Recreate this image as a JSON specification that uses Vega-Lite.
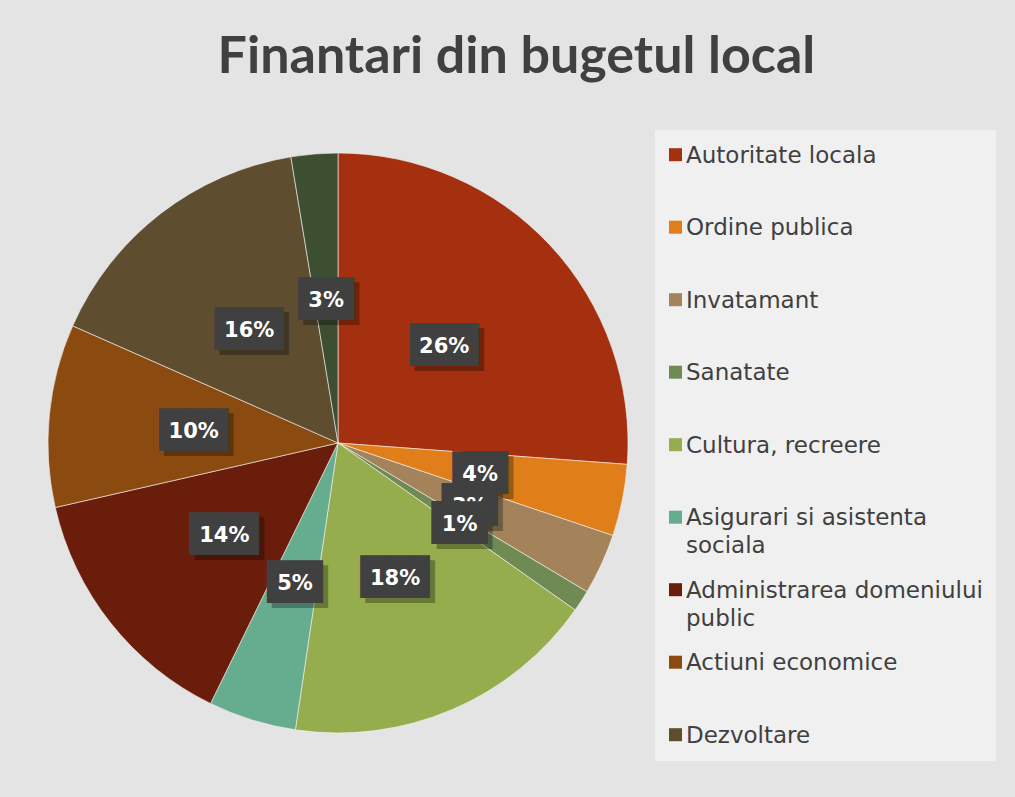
{
  "$schema": "https://vega.github.io/schema/vega-lite/v6.json",
  "width": 580,
  "height": 580,
  "autosize": "none",
  "padding": {"left": 48, "top": 153, "right": 387, "bottom": 64},
  "background": "#e4e4e4",
  "title": {
    "text": "Finantari din bugetul local",
    "font": "Lato",
    "fontWeight": "bold",
    "fontSize": 52,
    "color": "#404040",
    "anchor": "middle",
    "frame": "bounds",
    "baseline": "alphabetic",
    "offset": 5,
    "dx": -5
  },
  "config": {
    "view": {"stroke": null},
    "style": {"guide-label": {"lineHeight": 28}}
  },
  "data": {
    "values": [
      {"cat": "Autoritate locala", "value": 26.2, "idx": 1, "label": "26%"},
      {"cat": "Ordine publica", "value": 4.0, "idx": 2, "label": "4%"},
      {"cat": "Invatamant", "value": 3.4, "idx": 3, "label": "3%"},
      {"cat": "Sanatate", "value": 1.2, "idx": 4, "label": "1%"},
      {"cat": "Cultura, recreere", "value": 17.6, "idx": 5, "label": "18%"},
      {"cat": "Asigurari si asistenta sociala", "value": 4.9, "idx": 6, "label": "5%"},
      {"cat": "Administrarea domeniului public", "value": 14.2, "idx": 7, "label": "14%"},
      {"cat": "Actiuni economice", "value": 10.2, "idx": 8, "label": "10%"},
      {"cat": "Dezvoltare", "value": 15.8, "idx": 9, "label": "16%"},
      {"cat": "Altele", "value": 2.6, "idx": 10, "label": "3%"}
    ]
  },
  "encoding": {
    "theta": {"field": "value", "type": "quantitative", "stack": true},
    "order": {"field": "idx", "type": "quantitative"},
    "detail": {"field": "cat", "type": "nominal"}
  },
  "layer": [
    {
      "mark": {"type": "arc", "stroke": "#f4f4f4", "strokeWidth": 0.6},
      "encoding": {
        "color": {
          "field": "cat",
          "type": "nominal",
          "scale": {
            "domain": ["Autoritate locala", "Ordine publica", "Invatamant", "Sanatate", "Cultura, recreere", "Asigurari si asistenta sociala", "Administrarea domeniului public", "Actiuni economice", "Dezvoltare", "Altele"],
            "range": ["#a5300f", "#e07f1a", "#a4835a", "#6f8a53", "#96ad4d", "#66ad8f", "#6b1d0c", "#8b4a0f", "#5f4d30", "#3d4e31"]
          },
          "legend": {
            "orient": "none",
            "legendX": 607,
            "legendY": -23,
            "values": ["Autoritate locala", "Ordine publica", "Invatamant", "Sanatate", "Cultura, recreere", "Asigurari si asistenta sociala", "Administrarea domeniului public", "Actiuni economice", "Dezvoltare"],
            "title": " ",
            "titleFontSize": 1,
            "titlePadding": 7,
            "labelFont": "DejaVu Sans",
            "labelFontSize": 23,
            "labelColor": "#404040",
            "labelLimit": 400,
            "labelExpr": "datum.label == 'Asigurari si asistenta sociala' ? ['Asigurari si asistenta', 'sociala'] : datum.label == 'Administrarea domeniului public' ? ['Administrarea domeniului', 'public'] : datum.label",
            "symbolType": "M-1,-2.2H1V-0.2H-1Z",
            "symbolSize": 169,
            "symbolStrokeWidth": 0,
            "symbolOpacity": 1,
            "symbolOffset": -4,
            "labelBaseline": "alphabetic",
            "labelOffset": -1,
            "gridAlign": "all",
            "rowPadding": 20.5,
            "fillColor": "#f0f0f0",
            "padding": 13,
            "columns": 1
          }
        }
      }
    },
    {
      "mark": {"type": "text", "radius": 145, "font": "DejaVu Sans", "fontSize": 36, "baseline": "middle", "color": "#000000", "dx": 12, "dy": 7},
      "encoding": {
        "text": {"value": "██▌"},
        "opacity": {"condition": {"test": "length(datum.label) > 2", "value": 0.3}, "value": 0}
      }
    },
    {
      "mark": {"type": "text", "radius": 145, "font": "DejaVu Sans", "fontSize": 36, "baseline": "middle", "color": "#000000", "dx": 5, "dy": 7},
      "encoding": {
        "text": {"value": "██"},
        "opacity": {"condition": {"test": "length(datum.label) <= 2", "value": 0.3}, "value": 0}
      }
    },
    {
      "mark": {"type": "text", "radius": 145, "font": "DejaVu Sans", "fontSize": 36, "baseline": "middle", "color": "#404040", "dx": 7, "dy": 2},
      "encoding": {
        "text": {"value": "██▌"},
        "opacity": {"condition": {"test": "length(datum.label) > 2", "value": 1}, "value": 0}
      }
    },
    {
      "mark": {"type": "text", "radius": 145, "font": "DejaVu Sans", "fontSize": 36, "baseline": "middle", "color": "#404040", "dy": 2},
      "encoding": {
        "text": {"value": "██"},
        "opacity": {"condition": {"test": "length(datum.label) <= 2", "value": 1}, "value": 0}
      }
    },
    {
      "mark": {"type": "text", "radius": 145, "font": "DejaVu Sans", "fontWeight": "bold", "fontSize": 21, "baseline": "middle", "color": "#ffffff", "dy": 3},
      "encoding": {
        "text": {"field": "label", "type": "nominal"},
        "opacity": {"condition": {"test": "datum.cat != 'Invatamant' && datum.cat != 'Sanatate'", "value": 1}, "value": 0}
      }
    },
    {
      "mark": {"type": "text", "radius": 145, "font": "DejaVu Sans", "fontSize": 36, "baseline": "middle", "color": "#404040", "dy": 2},
      "encoding": {
        "text": {"value": "██"},
        "opacity": {"condition": {"test": "datum.cat == 'Invatamant' || datum.cat == 'Sanatate'", "value": 1}, "value": 0}
      }
    },
    {
      "mark": {"type": "text", "radius": 145, "font": "DejaVu Sans", "fontWeight": "bold", "fontSize": 21, "baseline": "middle", "color": "#ffffff", "dy": 3},
      "encoding": {
        "text": {"field": "label", "type": "nominal"},
        "opacity": {"condition": {"test": "datum.cat == 'Invatamant'", "value": 1}, "value": 0}
      }
    },
    {
      "mark": {"type": "text", "radius": 145, "font": "DejaVu Sans", "fontSize": 36, "baseline": "middle", "color": "#404040", "dy": 2},
      "encoding": {
        "text": {"value": "██"},
        "opacity": {"condition": {"test": "datum.cat == 'Sanatate'", "value": 1}, "value": 0}
      }
    },
    {
      "mark": {"type": "text", "radius": 145, "font": "DejaVu Sans", "fontWeight": "bold", "fontSize": 21, "baseline": "middle", "color": "#ffffff", "dy": 3},
      "encoding": {
        "text": {"field": "label", "type": "nominal"},
        "opacity": {"condition": {"test": "datum.cat == 'Sanatate'", "value": 1}, "value": 0}
      }
    }
  ]
}
